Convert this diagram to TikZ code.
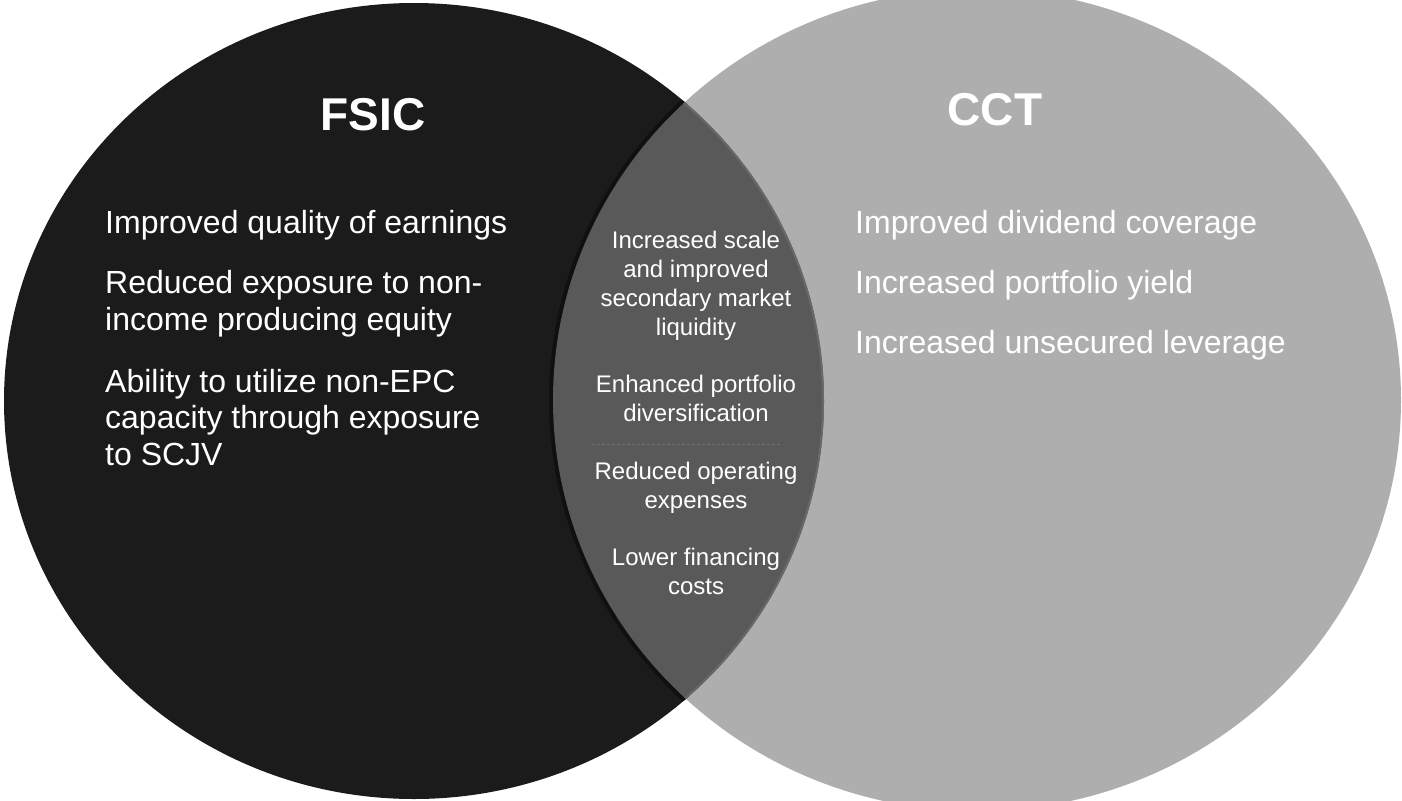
\documentclass[tikz,border=0pt]{standalone}
\usepackage{fontspec}
\setmainfont{Liberation Sans}
\definecolor{leftc}{HTML}{1B1B1B}
\definecolor{rightc}{HTML}{AEAEAE}
\definecolor{lensc}{HTML}{595959}
\definecolor{shadowc}{HTML}{101010}
\definecolor{rimc}{HTML}{686868}
\definecolor{sepc}{HTML}{707070}
\tikzset{
  title/.style={text=white, anchor=base, inner sep=0pt, font=\bfseries\fontsize{46}{50}\selectfont},
  item/.style={text=white, anchor=base west, inner sep=0pt, font=\fontsize{32}{36}\selectfont},
  lensitem/.style={text=white, anchor=base, inner sep=0pt, font=\fontsize{24}{28}\selectfont},
}
\begin{document}
\begin{tikzpicture}[x=1pt,y=-1pt]
\useasboundingbox (0,0) rectangle (1402,800);
\fill[white] (0,0) rectangle (1402,800);
% circles
\fill[leftc] (414,401) ellipse [x radius=410, y radius=398];
\fill[rightc] (977,400) ellipse [x radius=424, y radius=411];
% lens
\begin{scope}
  \clip (414,401) ellipse [x radius=410, y radius=398];
  \draw[shadowc, line width=8pt] (977,400) ellipse [x radius=424, y radius=411];
  \fill[lensc] (977,400) ellipse [x radius=424, y radius=411];
\end{scope}
\begin{scope}
  \clip (977,400) ellipse [x radius=424, y radius=411];
  \draw[rimc, line width=2pt] (414,401) ellipse [x radius=409, y radius=397];
\end{scope}
% separator
\coordinate (sepL) at (592,444);
\coordinate (sepR) at (782,444);
\draw[sepc, line width=0.8pt, dash pattern=on 3pt off 2pt] (sepL) -- (sepR);
% titles
\node[title] (fsic) at (373,130) {FSIC};
\node[title] (cct) at (995,125) {CCT};
% left items
\node[item] (l1) at (105,233) {Improved quality of earnings};
\node[item] (l2) at (105,293) {Reduced exposure to non-};
\node[item] (l3) at (105,330) {income producing equity};
\node[item] (l4) at (105,392) {Ability to utilize non-EPC};
\node[item] (l5) at (105,428) {capacity through exposure};
\node[item] (l6) at (105,465) {to SCJV};
% right items
\node[item] (r1) at (855,233) {Improved dividend coverage};
\node[item] (r2) at (855,293) {Increased portfolio yield};
\node[item] (r3) at (855,353) {Increased unsecured leverage};
% lens items
\node[lensitem] (m1) at (696,248) {Increased scale};
\node[lensitem] (m2) at (696,277) {and improved};
\node[lensitem] (m3) at (696,306) {secondary market};
\node[lensitem] (m4) at (696,335) {liquidity};
\node[lensitem] (m5) at (696,392) {Enhanced portfolio};
\node[lensitem] (m6) at (696,421) {diversification};
\node[lensitem] (m7) at (696,479) {Reduced operating};
\node[lensitem] (m8) at (696,508) {expenses};
\node[lensitem] (m9) at (696,565) {Lower financing};
\node[lensitem] (m10) at (696,594) {costs};
\end{tikzpicture}
\end{document}
